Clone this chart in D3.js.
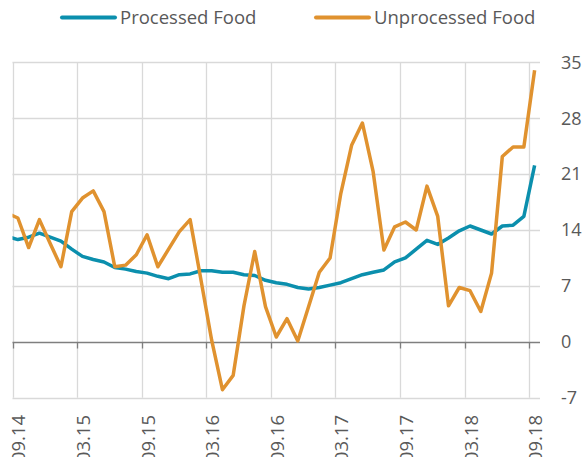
<!DOCTYPE html>
<html>
<head>
<meta charset="utf-8">
<script src="https://cdn.jsdelivr.net/npm/d3@7"></script>
<style>
  body { margin: 0; background: #fff; }
  text { font-family: "Open Sans", "Noto Sans", sans-serif; fill: #595959; }
</style>
</head>
<body>
<div id="chartArea"></div>
<script>
const w = 587;
const h = 457;

// first value is 08.14 (cut off by the plot edge), then 09.14 ... 09.18
var processed = [13.2,
    12.8, 13.1, 13.6, 13.1, 12.6, 11.6, 10.7, 10.3, 10.0, 9.3, 9.1, 8.8,
    8.6, 8.2, 7.9, 8.4, 8.5, 8.9, 8.9, 8.7, 8.7, 8.4, 8.3, 7.7,
    7.4, 7.2, 6.8, 6.6, 6.8, 7.1, 7.4, 7.9, 8.4, 8.7, 9.0, 10.0,
    10.5, 11.6, 12.7, 12.2, 13.0, 13.9, 14.5, 14.0, 13.5, 14.5, 14.6, 15.7,
    22.1];

var unprocessed = [16.1,
    15.5, 11.8, 15.3, 12.3, 9.4, 16.3, 18.0, 18.9, 16.3, 9.4, 9.6, 10.9,
    13.4, 9.4, 11.6, 13.8, 15.3, 7.8, 0.2, -6.0, -4.2, 4.5, 11.3, 4.4,
    0.6, 2.9, 0.1, 4.4, 8.7, 10.5, 18.6, 24.6, 27.4, 21.3, 11.5, 14.4,
    15.0, 14.0, 19.5, 15.7, 4.5, 6.8, 6.4, 3.8, 8.6, 23.2, 24.4, 24.4,
    34.0];

var tickLabels = ["09.14", "03.15", "09.15", "03.16", "09.16", "03.17", "09.17", "03.18", "09.18"];
var yTicks = [-7, 0, 7, 14, 21, 28, 35];

var series = [
    { name: "Processed Food", values: processed, color: "#0b8fad" },
    { name: "Unprocessed Food", values: unprocessed, color: "#e0922f" }
];

var plotLeft = 12.5, plotRight = 540, plotTop = 62.3, plotBottom = 397.7;

// 49 monthly categories, points sit in the middle of each one
var x = d3.scaleLinear().domain([0, 49]).range([plotLeft, plotRight]);
var y = d3.scaleLinear().domain([-7, 35]).range([plotBottom, plotTop]);

var svg = d3.select("#chartArea")
    .append("svg")
    .attr("width", w)
    .attr("height", h);

svg.append("clipPath")
    .attr("id", "plotClip")
    .append("rect")
    .attr("x", plotLeft)
    .attr("y", 0)
    .attr("width", plotRight - plotLeft)
    .attr("height", h);

// horizontal grid
svg.append("g")
    .selectAll("line")
    .data(yTicks.filter(function(d) { return d !== 0; }))
    .enter()
    .append("line")
    .attr("x1", plotLeft)
    .attr("x2", plotRight)
    .attr("y1", function(d) { return Math.round(y(d)) + 0.5; })
    .attr("y2", function(d) { return Math.round(y(d)) + 0.5; })
    .attr("stroke", "#d9d9d9")
    .attr("stroke-width", 1.3);

// vertical grid, one every six months
svg.append("g")
    .selectAll("line")
    .data(tickLabels)
    .enter()
    .append("line")
    .attr("x1", function(d, i) { return Math.round(x(i * 6)) + 0.5; })
    .attr("x2", function(d, i) { return Math.round(x(i * 6)) + 0.5; })
    .attr("y1", plotTop)
    .attr("y2", plotBottom)
    .attr("stroke", "#d9d9d9")
    .attr("stroke-width", 1.3);

// zero line with its tick marks
var y0 = Math.round(y(0)) + 0.5;
svg.append("line")
    .attr("x1", plotLeft)
    .attr("x2", plotRight)
    .attr("y1", y0)
    .attr("y2", y0)
    .attr("stroke", "#7f7f7f")
    .attr("stroke-width", 1.3);

svg.append("g")
    .selectAll("line")
    .data(tickLabels)
    .enter()
    .append("line")
    .attr("x1", function(d, i) { return Math.round(x(i * 6)) + 0.5; })
    .attr("x2", function(d, i) { return Math.round(x(i * 6)) + 0.5; })
    .attr("y1", y0)
    .attr("y2", y0 + 6)
    .attr("stroke", "#7f7f7f")
    .attr("stroke-width", 1.3);

// right axis labels
svg.append("g")
    .selectAll("text")
    .data(yTicks)
    .enter()
    .append("text")
    .attr("x", 561)
    .attr("y", function(d) { return y(d); })
    .attr("dy", "0.35em")
    .attr("font-size", 18)
    .text(function(d) { return d; });

// rotated month labels (the bottom edge cuts them, as in the original)
svg.append("g")
    .selectAll("text")
    .data(tickLabels)
    .enter()
    .append("text")
    .attr("transform", function(d, i) {
        return "translate(" + (x(i * 6 + 0.5) + 1) + ",415) rotate(-90)";
    })
    .attr("text-anchor", "end")
    .attr("dy", "0.35em")
    .attr("font-size", 18.5)
    .text(function(d) { return d; });

var line = d3.line()
    .x(function(d, i) { return x(i - 0.5); })
    .y(function(d) { return y(d); });

svg.append("g")
    .attr("clip-path", "url(#plotClip)")
    .selectAll("path")
    .data(series)
    .enter()
    .append("path")
    .attr("d", function(d) { return line(d.values); })
    .attr("fill", "none")
    .attr("stroke", function(d) { return d.color; })
    .attr("stroke-width", 3.5)
    .attr("stroke-linejoin", "round");

// legend
var legendX = [62, 316];
var legend = svg.append("g")
    .selectAll("g")
    .data(series)
    .enter()
    .append("g")
    .attr("transform", function(d, i) { return "translate(" + legendX[i] + ",17.5)"; });

legend.append("line")
    .attr("x1", 0)
    .attr("x2", 53)
    .attr("stroke", function(d) { return d.color; })
    .attr("stroke-width", 4)
    .attr("stroke-linecap", "round");

legend.append("text")
    .attr("x", 58)
    .attr("dy", "0.35em")
    .attr("font-size", 18.5)
    .text(function(d) { return d.name; });
</script>
</body>
</html>
